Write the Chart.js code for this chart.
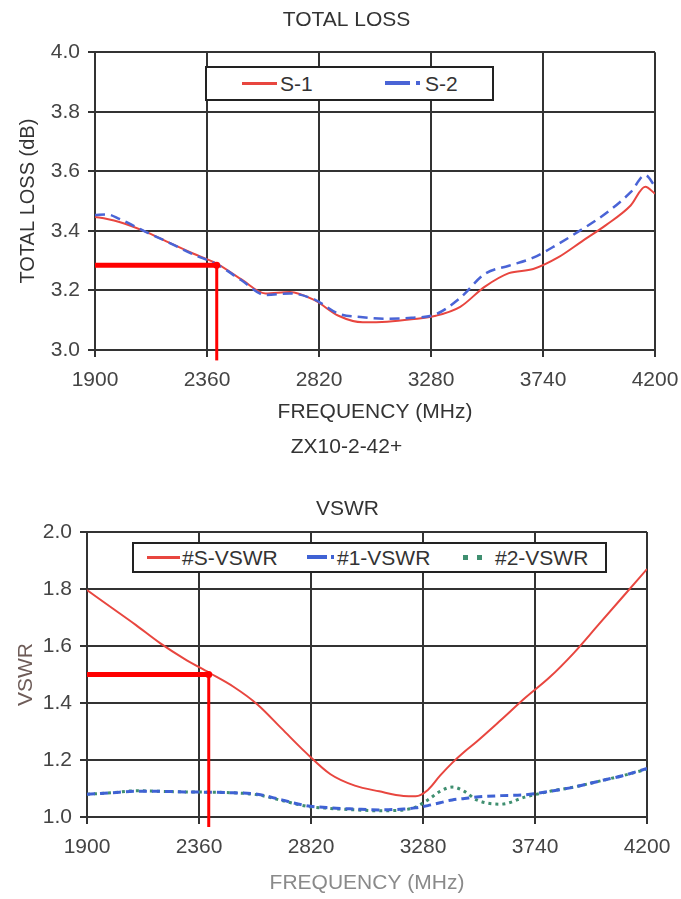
<!DOCTYPE html>
<html>
<head>
<meta charset="utf-8">
<title>ZX10-2-42+</title>
<script src="https://cdn.jsdelivr.net/npm/chart.js@4.4.1/dist/chart.umd.min.js"></script>
<style>
    html, body { margin: 0; padding: 0; background: #fff; }
    body { width: 681px; height: 899px; position: relative; overflow: hidden; font-family: 'Liberation Sans', Arial, sans-serif; }
    canvas { position: absolute; left: 0; }
    #lossChart { top: 0; }
    #vswrChart { top: 480px; }
    .legend { position: absolute; background: #fff; border: 2px solid #222; box-sizing: border-box; font-size: 21px; color: #333; }
    .legend span { position: absolute; }
    .legend .txt { top: 0; bottom: 0; display: flex; align-items: center; }
</style>
</head>
<body>
<canvas id="lossChart" width="681" height="460"></canvas>
<canvas id="vswrChart" width="681" height="419"></canvas>

<!-- legends (boxed, sitting over the plot like the original) -->
<div class="legend" style="left:205px; top:66px; width:289px; height:35px;">
    <span style="left:35px; top:14px; width:35px; height:3px; background:#e8463f;"></span>
    <span class="txt" style="left:73px;">S-1</span>
    <span style="left:178px; top:13px; width:25px; height:4px; background:#4a64d6;"></span>
    <span style="left:209px; top:13px; width:4px; height:4px; background:#4a64d6;"></span>
    <span class="txt" style="left:218px;">S-2</span>
</div>
<div class="legend" style="left:132px; top:542px; width:475px; height:31px;">
    <span style="left:13px; top:12px; width:33px; height:3px; background:#e8463f;"></span>
    <span class="txt" style="left:48px;">#S-VSWR</span>
    <span style="left:173px; top:11px; width:20px; height:4px; background:#3f62d4;"></span>
    <span style="left:197px; top:11px; width:3px; height:4px; background:#3f62d4;"></span>
    <span class="txt" style="left:203px;">#1-VSWR</span>
    <span style="left:329px; top:11px; width:5px; height:5px; background:#3f8f70;"></span>
    <span style="left:343px; top:11px; width:5px; height:5px; background:#3f8f70;"></span>
    <span class="txt" style="left:361px;">#2-VSWR</span>
</div>

<script>
// Tick labels
const freqTicks = [1900, 2360, 2820, 3280, 3740, 4200];
const lossTicks = [3.0, 3.2, 3.4, 3.6, 3.8, 4.0];
const vswrTicks = [1.0, 1.2, 1.4, 1.6, 1.8, 2.0];

// TOTAL LOSS data (MHz, dB)
const lossFreq = [1900, 1950, 2000, 2100, 2200, 2300, 2400, 2500, 2600, 2700, 2800, 2900, 3000,
    3100, 3200, 3300, 3400, 3500, 3600, 3700, 3800, 3900, 4000, 4100, 4160, 4200];
const lossS1 = [3.447, 3.44, 3.43, 3.40, 3.362, 3.325, 3.29, 3.238, 3.19, 3.195, 3.168, 3.115, 3.093,
    3.095, 3.103, 3.115, 3.145, 3.212, 3.258, 3.272, 3.31, 3.365, 3.42, 3.485, 3.548, 3.525];
const lossS2 = [3.453, 3.455, 3.44, 3.40, 3.362, 3.322, 3.288, 3.235, 3.185, 3.19, 3.17, 3.122, 3.11,
    3.105, 3.108, 3.12, 3.175, 3.255, 3.283, 3.31, 3.355, 3.405, 3.46, 3.53, 3.587, 3.55];

// VSWR data
const vswrFreq = [1900, 2000, 2100, 2200, 2300, 2400, 2500, 2600, 2700, 2800, 2900, 3000, 3100, 3200,
    3250, 3300, 3350, 3400, 3450, 3500, 3600, 3700, 3800, 3900, 4000, 4100, 4200];
const vswrS = [1.796, 1.735, 1.674, 1.61, 1.555, 1.507, 1.458, 1.395, 1.31, 1.225, 1.15, 1.11, 1.09, 1.074,
    1.073, 1.095, 1.145, 1.19, 1.229, 1.264, 1.34, 1.418, 1.49, 1.576, 1.674, 1.772, 1.87];
const vswr1 = [1.08, 1.085, 1.09, 1.09, 1.088, 1.087, 1.085, 1.08, 1.06, 1.04, 1.032, 1.028, 1.025, 1.028,
    1.032, 1.04, 1.05, 1.06, 1.065, 1.07, 1.075, 1.078, 1.09, 1.105, 1.125, 1.145, 1.17];
const vswr2 = [1.08, 1.085, 1.092, 1.09, 1.088, 1.087, 1.085, 1.078, 1.058, 1.038, 1.03, 1.025, 1.022, 1.025,
    1.035, 1.06, 1.09, 1.105, 1.09, 1.06, 1.045, 1.07, 1.09, 1.105, 1.125, 1.145, 1.168];

// Red read-off markers at 2400 MHz
const markerFreq = 2400;
const markerLoss = 3.285;
const markerLossFloor = 2.965;
const markerVswr = 1.5;
const markerVswrFloor = 0.965;

const FONT = "'Liberation Sans', Arial, sans-serif";
const font = { family: FONT, size: 21, weight: 'normal' };

function toPoints(xs, ys) {
    return xs.map((x, i) => ({ x: x, y: ys[i] }));
}

function markerSets(yVal, yFloor) {
    return [
        {
            label: 'marker-h',
            data: [{ x: freqTicks[0], y: yVal }, { x: markerFreq, y: yVal }],
            borderColor: '#ff0000',
            borderWidth: 5,
            pointRadius: 0,
            order: 0
        },
        {
            label: 'marker-v',
            data: [{ x: markerFreq, y: yVal }, { x: markerFreq, y: yFloor }],
            borderColor: '#ff0000',
            backgroundColor: '#ff0000',
            borderWidth: 3,
            pointRadius: [3.5, 0],
            pointBorderWidth: 0,
            clip: false,
            order: 0
        }
    ];
}

function buildOptions(cfg) {
    return {
        responsive: false,
        animation: false,
        layout: { padding: { left: cfg.leftPad, right: 0, top: 0, bottom: 0 } },
        plugins: {
            legend: { display: false },
            tooltip: { enabled: false },
            title: {
                display: true,
                text: cfg.title,
                color: '#333',
                font: font,
                padding: cfg.titlePad
            },
            subtitle: cfg.subtitle ? {
                display: true,
                position: 'bottom',
                text: cfg.subtitle,
                color: '#333',
                font: font,
                padding: { top: 10, bottom: 0 }
            } : { display: false }
        },
        scales: {
            x: {
                type: 'linear',
                min: freqTicks[0],
                max: freqTicks[freqTicks.length - 1],
                afterBuildTicks: s => { s.ticks = freqTicks.map(v => ({ value: v })); },
                afterFit: s => {
                    s.height = cfg.xHeight;
                    s.paddingLeft = 0;
                    s.paddingRight = 0;
                },
                ticks: { color: '#444', font: font, padding: 11, maxRotation: 0, callback: v => String(v) },
                grid: { color: '#333', lineWidth: 2, tickLength: 7 },
                border: { color: '#333', width: 2 },
                title: {
                    display: true,
                    text: 'FREQUENCY (MHz)',
                    color: cfg.xTitleColor,
                    font: font,
                    padding: { top: 0, bottom: cfg.xTitleBottom }
                }
            },
            y: {
                min: cfg.yTicks[0],
                max: cfg.yTicks[cfg.yTicks.length - 1],
                afterBuildTicks: s => { s.ticks = cfg.yTicks.map(v => ({ value: v })); },
                afterFit: s => { s.width = cfg.yWidth; },
                ticks: { color: '#444', font: font, padding: 8, callback: v => v.toFixed(1) },
                grid: { color: '#333', lineWidth: 2, tickLength: 7 },
                border: { color: '#333', width: 2 },
                title: {
                    display: true,
                    text: cfg.yTitle,
                    color: cfg.yTitleColor,
                    font: { family: FONT, size: cfg.yTitleSize, weight: 'normal' },
                    padding: { top: cfg.yTitleTop, bottom: 0 }
                }
            },
            // empty right margin so the plot ends where the original does
            yRight: {
                position: 'right',
                afterFit: s => { s.width = cfg.rightGap; },
                ticks: { display: false },
                grid: { display: false },
                border: { display: false }
            }
        },
        elements: { line: { cubicInterpolationMode: 'monotone' } }
    };
}

// TOTAL LOSS chart
new Chart(document.getElementById('lossChart'), {
    type: 'line',
    data: {
        datasets: [
            ...markerSets(markerLoss, markerLossFloor),
            {
                label: 'S-1',
                data: toPoints(lossFreq, lossS1),
                borderColor: '#e8463f',
                borderWidth: 2,
                pointRadius: 0,
                order: 2
            },
            {
                label: 'S-2',
                data: toPoints(lossFreq, lossS2),
                borderColor: '#4a64d6',
                borderWidth: 2.5,
                borderDash: [10, 6],
                pointRadius: 0,
                order: 1
            }
        ]
    },
    options: buildOptions({
        title: 'TOTAL LOSS',
        titlePad: { top: 8, bottom: 19 },
        subtitle: 'ZX10-2-42+',
        leftPad: 12,
        rightGap: 26,
        xHeight: 74.8,
        xTitleColor: '#333',
        xTitleBottom: 0,
        yTicks: lossTicks,
        yWidth: 83,
        yTitle: 'TOTAL LOSS (dB)',
        yTitleColor: '#333',
        yTitleSize: 20,
        yTitleTop: 4
    })
});

// VSWR chart
new Chart(document.getElementById('vswrChart'), {
    type: 'line',
    data: {
        datasets: [
            ...markerSets(markerVswr, markerVswrFloor),
            {
                label: '#S-VSWR',
                data: toPoints(vswrFreq, vswrS),
                borderColor: '#e8463f',
                borderWidth: 2,
                pointRadius: 0,
                order: 1
            },
            {
                label: '#1-VSWR',
                data: toPoints(vswrFreq, vswr1),
                borderColor: '#3f62d4',
                borderWidth: 3,
                borderDash: [8, 5],
                pointRadius: 0,
                order: 2
            },
            {
                label: '#2-VSWR',
                data: toPoints(vswrFreq, vswr2),
                borderColor: '#3f8f70',
                borderWidth: 3,
                borderDash: [3, 4],
                pointRadius: 0,
                order: 3
            }
        ]
    },
    options: buildOptions({
        title: 'VSWR',
        titlePad: { top: 17, bottom: 9.8 },
        subtitle: null,
        leftPad: 14,
        rightGap: 34,
        xHeight: 82,
        xTitleColor: '#8a8a8a',
        xTitleBottom: 3.4,
        yTicks: vswrTicks,
        yWidth: 73,
        yTitle: 'VSWR',
        yTitleColor: '#6e5c58',
        yTitleSize: 21,
        yTitleTop: 0
    })
});
</script>
</body>
</html>
